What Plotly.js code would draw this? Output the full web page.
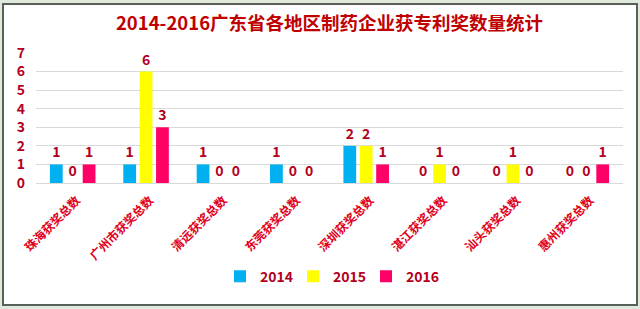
<!DOCTYPE html>
<html>
<head>
<meta charset="utf-8">
<script src="https://cdn.plot.ly/plotly-3.0.1.min.js"></script>
<style>
  html, body { margin: 0; padding: 0; background: #dfe9dc; }
  #chart { width: 640px; height: 309px; }
</style>
</head>
<body>
<div id="chart"></div>
<script>
// Patent awards won by pharmaceutical companies, by city, 2014-2016
const regions = ['珠海获奖总数', '广州市获奖总数', '清远获奖总数', '东莞获奖总数',
                 '深圳获奖总数', '湛江获奖总数', '汕头获奖总数', '惠州获奖总数'];
const years = ['2014', '2015', '2016'];
const awards2014 = [1, 1, 1, 1, 2, 0, 0, 0];
const awards2015 = [0, 6, 0, 0, 2, 1, 1, 0];
const awards2016 = [1, 3, 0, 0, 1, 0, 0, 1];
const yTicks = [0, 1, 2, 3, 4, 5, 6, 7];

const seriesValues = [awards2014, awards2015, awards2016];
const seriesColors = ['#00b0f0', '#ffff00', '#ff0066'];
const fontFamily = '"Microsoft YaHei", "Noto Sans CJK SC", sans-serif';
const darkRed = '#b4001e';

const traces = years.map((yr, i) => ({
  type: 'bar',
  name: yr,
  x: regions,
  y: seriesValues[i],
  marker: { color: seriesColors[i] },
  text: seriesValues[i].map(String),
  textposition: 'outside',
  cliponaxis: false,
  textfont: { family: fontFamily, size: 14, color: darkRed, weight: 'bold' },
  hoverinfo: 'x+y+name'
}));

const layout = {
  width: 640,
  height: 309,
  margin: { l: 36, r: 17, t: 53, b: 126 },
  paper_bgcolor: '#dfe9dc',
  plot_bgcolor: 'rgba(0,0,0,0)',
  barmode: 'group',
  bargap: 0.33,
  bargroupgap: 0.22,
  title: {
    text: '2014-2016广东省各地区制药企业获专利奖数量统计',
    font: { family: fontFamily, size: 18.5, color: '#c00000', weight: 'bold' },
    x: 0.5, xanchor: 'center', xref: 'paper',
    y: 0.925, yanchor: 'middle'
  },
  xaxis: {
    tickangle: -45,
    tickfont: { family: fontFamily, size: 12, color: '#e0001b', weight: 'bold' },
    showgrid: false,
    showline: false,
    zeroline: false,
    ticks: '',
    ticklabelshift: 4,
    ticklabelstandoff: 7,
    automargin: false
  },
  yaxis: {
    range: [0, 7],
    tickvals: yTicks,
    ticktext: yTicks.map(String),
    tickfont: { family: fontFamily, size: 14, color: darkRed, weight: 'bold' },
    gridcolor: '#d9d9d9',
    gridwidth: 1,
    zeroline: true,
    zerolinecolor: '#d9d9d9',
    showline: false,
    ticks: '',
    ticklabelstandoff: 10,
    automargin: false
  },
  legend: {
    orientation: 'h',
    x: 0.5, xanchor: 'center',
    y: -0.72, yanchor: 'middle',
    font: { family: fontFamily, size: 14, color: darkRed, weight: 'bold' },
    itemwidth: 30,
    entrywidth: 28,
    bgcolor: 'rgba(0,0,0,0)'
  },
  shapes: [{
    type: 'rect', xref: 'paper', yref: 'paper', layer: 'below',
    x0: -33 / 587, x1: 1 + 14 / 587,
    y0: -122 / 130, y1: 1 + 49 / 130,
    fillcolor: '#ffffff',
    line: { color: '#5a5f5a', width: 2 }
  }],
  showlegend: true
};

Plotly.newPlot('chart', traces, layout, { displayModeBar: false, staticPlot: true });
</script>
</body>
</html>
